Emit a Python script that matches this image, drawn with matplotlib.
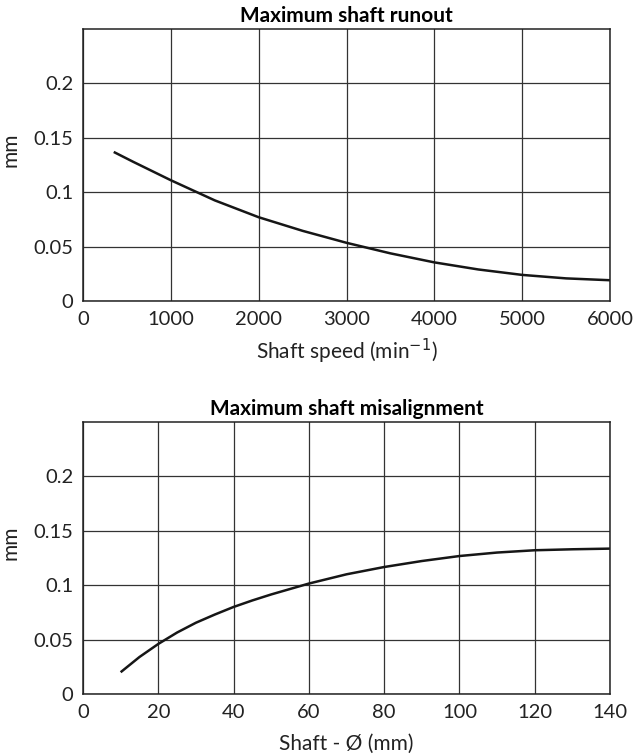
import matplotlib
matplotlib.use("Agg")
import matplotlib.pyplot as plt

plt.rcParams['font.family'] = ['Lato', 'DejaVu Sans']

# top chart: runout vs shaft speed
speed = [350, 570, 1000, 1500, 2000, 2500, 3000, 3500, 4000, 4500, 5000, 5500, 6000]
runout = [0.137, 0.128, 0.111, 0.0925, 0.077, 0.0645, 0.0535, 0.0438, 0.0355,
          0.0290, 0.0240, 0.0208, 0.0191]

# bottom chart: misalignment vs shaft diameter
diam = [10, 15, 20, 25, 30, 35, 40, 45, 50, 60, 70, 80, 90, 100, 110, 120, 130, 140]
misalign = [0.020, 0.034, 0.046, 0.0565, 0.0655, 0.073, 0.080, 0.086, 0.0915, 0.1015,
            0.110, 0.1167, 0.1222, 0.1268, 0.130, 0.1321, 0.133, 0.1336]

yticks = [0, 0.05, 0.1, 0.15, 0.2]
ylabels = ['0', '0.05', '0.1', '0.15', '0.2']

fig = plt.figure(figsize=(6.35, 7.55), dpi=100)
ax1 = fig.add_axes([0.1307, 0.6013, 0.830, 0.3603])
ax2 = fig.add_axes([0.1307, 0.0808, 0.830, 0.3603])

setups = [
    (ax1, speed, runout, 'Maximum shaft runout', 'Shaft speed (min$^{-1}$)',
     [0, 6000], range(0, 7000, 1000), 6),
    (ax2, diam, misalign, 'Maximum shaft misalignment', 'Shaft - Ø (mm)',
     [0, 140], range(0, 160, 20), 9),
]

for ax, x, y, title, xlabel, xlim, xt, lpad in setups:
    ax.plot(x, y, color='#161616', lw=1.8, solid_capstyle='butt', solid_joinstyle='round')
    ax.set_xlim(*xlim)
    ax.set_ylim(0, 0.25)
    ax.set_xticks(list(xt))
    ax.set_yticks(yticks)
    ax.set_yticklabels(ylabels)
    ax.grid(True, color='#333333', lw=0.9)
    ax.set_axisbelow(True)
    ax.tick_params(length=0, labelsize=14.5, colors='#222222')
    ax.tick_params(axis='x', pad=7.5)
    ax.tick_params(axis='y', pad=7)
    for s in ax.spines.values():
        s.set_linewidth(1.1)
        s.set_color('#222222')
    ax.set_title(title, fontsize=15, fontweight='bold', pad=5)
    ax.set_xlabel(xlabel, fontsize=15, labelpad=lpad, color='#222222')
    ax.set_ylabel('mm', fontsize=15, color='#222222')
    ax.yaxis.set_label_coords(-0.1195, 0.555)

fig.savefig('out.png', dpi=100)
